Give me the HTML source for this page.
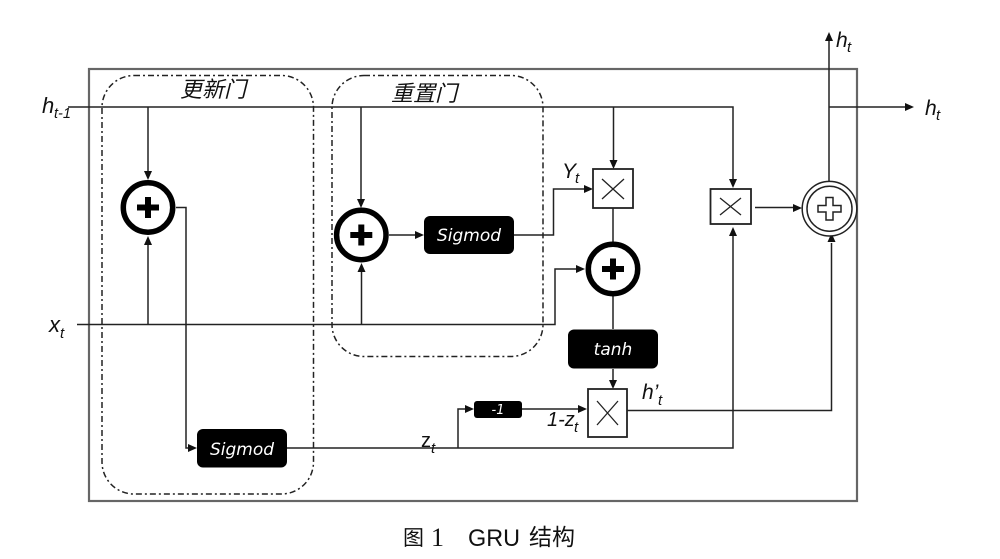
<!DOCTYPE html>
<html><head><meta charset="utf-8"><style>
html,body{margin:0;padding:0;background:#fff}
svg{display:block}
text{font-family:"Liberation Sans","Noto Sans CJK SC",sans-serif;fill:#111}
.i{font-style:italic}
.w{fill:#fff;font-style:italic;font-family:"DejaVu Sans",sans-serif;text-anchor:middle}
</style></head><body>
<svg width="1000" height="559" viewBox="0 0 1000 559" xmlns="http://www.w3.org/2000/svg">
<defs>
<g id="ad"><path d="M-4-9L4-9L0 0Z" fill="#111"/></g>
<g id="au"><path d="M-4 9L4 9L0 0Z" fill="#111"/></g>
<g id="ar"><path d="M-9-4L-9 4L0 0Z" fill="#111"/></g>
</defs>
<rect width="1000" height="559" fill="#fff"/>
<rect x="89" y="69" width="768" height="432" fill="none" stroke="#666" stroke-width="2.2"/>
<g fill="none" stroke="#222" stroke-width="1.5" stroke-dasharray="6 3 2 3">
<rect x="102" y="75.500" width="211.500" height="418.500" rx="32"/>
<rect x="332" y="75.500" width="211" height="281" rx="32"/>
</g>
<g fill="none" stroke="#222" stroke-width="1.500">
<path d="M68 107H733V181"/>
<path d="M148 107V172"/>
<path d="M361 107V200"/>
<path d="M613.500 107V161"/>
<path d="M77 324.500H555V269H577"/>
<path d="M148 324.500V238"/>
<path d="M361.500 324.500V265"/>
<path d="M176 207.500H186V448H190"/>
<path d="M389 235H417"/>
<path d="M514 235H553.500V189H586"/>
<path d="M613 208V242M613 296V329M613 369V381"/>
<path d="M287 448H733V234"/>
<path d="M458 448V409H467M522 409H580"/>
<path d="M627 410.500H831.500V243"/>
<path d="M755 207.500H795"/>
<path d="M829 181V40M829 107H907"/>
</g>
<use href="#ad" x="148" y="180"/>
<use href="#ad" x="361" y="208"/>
<use href="#ad" x="613.500" y="169"/>
<use href="#ad" x="733" y="188"/>
<use href="#ad" x="613" y="389"/>
<use href="#au" x="148" y="236"/>
<use href="#au" x="361.500" y="263"/>
<use href="#au" x="733" y="227"/>
<use href="#au" x="831.500" y="233"/>
<use href="#au" x="829" y="32"/>
<use href="#ar" x="585" y="269"/>
<use href="#ar" x="197" y="448"/>
<use href="#ar" x="424" y="235"/>
<use href="#ar" x="593" y="189"/>
<use href="#ar" x="474" y="409"/>
<use href="#ar" x="587" y="409"/>
<use href="#ar" x="802" y="208"/>
<use href="#ar" x="914" y="107"/>
<g fill="#fff" stroke="#000" stroke-width="5.500">
<circle cx="148" cy="207.500" r="24.700"/>
<circle cx="361.300" cy="235" r="24.700"/>
<circle cx="613" cy="269" r="24.700"/>
</g>
<g fill="#000">
<path d="M145 197h6v7.500h8v6h-8v7.500h-6v-7.500h-8v-6h8z"/>
<path d="M358.300 224.500h6v7.500h8v6h-8v7.500h-6v-7.500h-8v-6h8z"/>
<path d="M610 258.500h6v7.500h8v6h-8v7.500h-6v-7.500h-8v-6h8z"/>
</g>
<g fill="#fff" stroke="#222" stroke-width="1.800">
<rect x="593" y="169" width="40" height="39"/>
<rect x="710.500" y="189" width="40.500" height="35"/>
<rect x="588" y="389" width="39" height="48"/>
</g>
<g stroke="#222" stroke-width="1.300" fill="none">
<path d="M602 179L624 199M624 179L602 199"/>
<path d="M720 198L741 215M741 198L720 215"/>
<path d="M597 401L618 425M618 401L597 425"/>
</g>
<circle cx="829.500" cy="208.700" r="27.300" fill="#fff" stroke="#222" stroke-width="1.500"/>
<circle cx="829.500" cy="208.700" r="22.500" fill="#fff" stroke="#222" stroke-width="1.500"/>
<path d="M826 197.500h7v8h8v6.500h-8v8h-7v-8h-8v-6.500h8z" fill="#fff" stroke="#222" stroke-width="1.500"/>
<g fill="#000">
<rect x="197" y="429" width="90" height="38.500" rx="6"/>
<rect x="424" y="216" width="90" height="38" rx="6"/>
<rect x="568" y="329.500" width="90" height="39" rx="6"/>
<rect x="474" y="401" width="48" height="17" rx="3"/>
</g>
<text class="w" x="242" y="455" font-size="17">Sigmod</text>
<text class="w" x="469" y="241" font-size="17">Sigmod</text>
<text class="w" x="613" y="355" font-size="17">tanh</text>
<text class="w" x="498" y="414" font-size="13">-1</text>
<text class="i" x="180" y="97" font-size="22">更新门</text>
<text class="i" x="391" y="101" font-size="22">重置门</text>
<text class="i" x="42" y="113" font-size="22">h</text><text class="i" x="54" y="118" font-size="14.500">t-1</text>
<text class="i" x="49" y="332" font-size="22">x</text><text class="i" x="60" y="338" font-size="15">t</text>
<text class="i" x="562" y="178" font-size="21">Y</text><text class="i" x="575" y="183" font-size="15">t</text>
<text class="i" x="836" y="47" font-size="21">h</text><text class="i" x="847" y="52" font-size="15">t</text>
<text class="i" x="925" y="115" font-size="21">h</text><text class="i" x="936" y="120" font-size="15">t</text>
<text class="i" x="642" y="399" font-size="21">h’</text><text class="i" x="658" y="405" font-size="15">t</text>
<text x="421" y="447" font-size="20">z</text><text class="i" x="431" y="453" font-size="15">t</text>
<text class="i" x="547" y="426" font-size="20">1-z</text><text class="i" x="574" y="432" font-size="15">t</text>
<text x="403" y="545" font-size="21">图</text>
<text x="431" y="546" font-size="26" style="font-family:'Liberation Serif',serif">1</text>
<text x="468" y="546" font-size="24" textLength="52" lengthAdjust="spacingAndGlyphs">GRU</text>
<text x="529" y="545" font-size="23">结构</text>
</svg>
</body></html>
